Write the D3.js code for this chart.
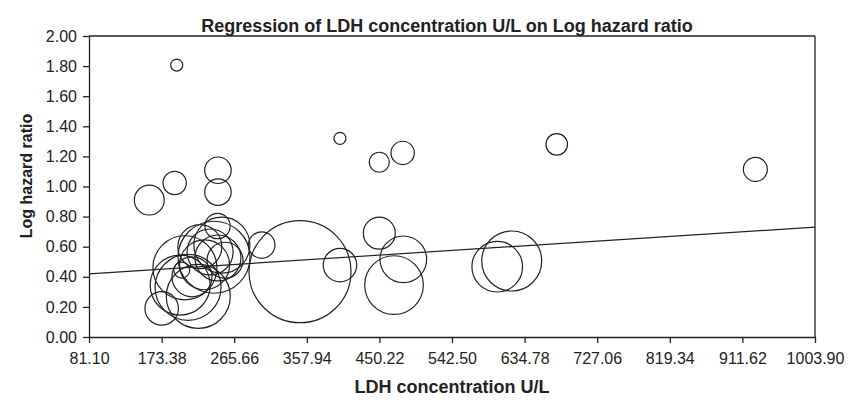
<!DOCTYPE html>
<html>
<head>
<meta charset="utf-8">
<script src="https://cdn.jsdelivr.net/npm/d3@7"></script>
<style>
  body { margin: 0; background: #fff; }
  svg { display: block; font-family: "Liberation Sans", Arial, sans-serif; }
</style>
</head>
<body>
<div id="chart"></div>
<script>
// LDH concentration (U/L), log hazard ratio and study weight per bubble
var ldh = [192.6, 400.1, 450.1, 479.8, 190.0, 245.0, 245.0, 157.7, 675.6, 928.1,
           450.1, 300.6, 400.1, 349.3, 173.5, 480.6, 468.8, 600.0, 618.4, 244.5,
           240, 203, 207, 220, 235, 245, 254, 222, 199, 228, 212, 250, 197];
var logHR = [1.807, 1.32, 1.161, 1.223, 1.023, 1.108, 0.963, 0.91, 1.28, 1.114,
             0.69, 0.611, 0.478, 0.434, 0.19, 0.516, 0.345, 0.467, 0.505, 0.737,
             0.53, 0.46, 0.33, 0.27, 0.565, 0.525, 0.51, 0.60, 0.445, 0.48, 0.40, 0.61, 0.345];
var weight = [9, 9, 25, 34, 34, 44, 44, 56, 29, 36,
              64, 44, 70, 650, 70, 136, 215, 160, 225, 40,
              324, 256, 272, 256, 132, 132, 81, 121, 16, 156, 100, 196, 225];

var xTicks = [81.10, 173.38, 265.66, 357.94, 450.22, 542.50, 634.78, 727.06, 819.34, 911.62, 1003.90];
var yTicks = [0, 0.2, 0.4, 0.6, 0.8, 1.0, 1.2, 1.4, 1.6, 1.8, 2.0];

// fitted regression line: logHR = intercept + slope * LDH
var intercept = 0.3928;
var slope = 0.000336;

var W = 851, H = 403;
var margin = {top: 36, right: 36, bottom: 66, left: 89},
    width = W - margin.left - margin.right,
    height = H - margin.top - margin.bottom;

var svg = d3.select("#chart").append("svg")
    .attr("width", W)
    .attr("height", H);

var g = svg.append("g")
    .attr("transform", "translate(" + margin.left + "," + margin.top + ")");

var x = d3.scaleLinear().domain([81.10, 1003.90]).range([0, width]);
var y = d3.scaleLinear().domain([0, 2]).range([height, 0]);
var r = d3.scaleSqrt().domain([0, 650]).range([0, 51]);

// frame (top and right)
g.append("line")
    .attr("x1", 0).attr("x2", width)
    .attr("y1", 0).attr("y2", 0)
    .attr("stroke", "#222").attr("stroke-width", 1.3);
g.append("line")
    .attr("x1", width).attr("x2", width)
    .attr("y1", 0).attr("y2", height)
    .attr("stroke", "#222").attr("stroke-width", 1.3);

var data = ldh.map(function(d, i) {
  return {ldh: d, lhr: logHR[i], w: weight[i]};
});

g.selectAll("circle.bubble")
    .data(data)
  .enter().append("circle")
    .attr("class", "bubble")
    .attr("cx", function(d) { return x(d.ldh); })
    .attr("cy", function(d) { return y(d.lhr); })
    .attr("r", function(d) { return r(d.w); })
    .attr("fill", "none")
    .attr("stroke", "#222")
    .attr("stroke-width", 1.2);

var xDom = x.domain();
g.append("line")
    .attr("x1", x(xDom[0])).attr("y1", y(intercept + slope * xDom[0]))
    .attr("x2", x(xDom[1])).attr("y2", y(intercept + slope * xDom[1]))
    .attr("stroke", "#222").attr("stroke-width", 1.2);

var xAxis = g.append("g")
    .attr("transform", "translate(0," + height + ")")
    .call(d3.axisBottom(x).tickValues(xTicks).tickFormat(d3.format(".2f")).tickSize(6).tickSizeOuter(0));

var yAxis = g.append("g")
    .call(d3.axisLeft(y).tickValues(yTicks).tickFormat(d3.format(".2f")).tickSize(6).tickSizeOuter(0));

[xAxis, yAxis].forEach(function(a) {
  a.selectAll("path, line").attr("stroke", "#222").attr("stroke-width", 1.3);
  a.selectAll("text").attr("fill", "#222").style("font-size", "16px");
});
xAxis.selectAll("text").attr("y", 27).attr("dy", 0);
yAxis.selectAll("text").attr("x", -12);

svg.append("text")
    .attr("x", 447)
    .attr("y", 32)
    .attr("text-anchor", "middle")
    .style("font-size", "18px")
    .style("font-weight", "bold")
    .attr("fill", "#222")
    .text("Regression of LDH concentration U/L on Log hazard ratio");

svg.append("text")
    .attr("x", margin.left + width / 2)
    .attr("y", 393)
    .attr("text-anchor", "middle")
    .style("font-size", "18px")
    .style("font-weight", "bold")
    .attr("fill", "#222")
    .text("LDH concentration U/L");

svg.append("text")
    .attr("transform", "translate(32,176) rotate(-90)")
    .attr("text-anchor", "middle")
    .style("font-size", "16px")
    .style("font-weight", "bold")
    .attr("fill", "#222")
    .text("Log hazard ratio");
</script>
</body>
</html>
